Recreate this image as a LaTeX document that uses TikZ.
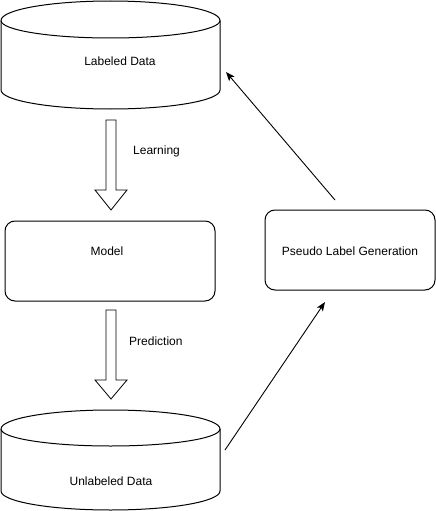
\documentclass[tikz,border=0pt]{standalone}
\usepackage{fontspec}
\setmainfont{Liberation Sans}
\usetikzlibrary{arrows.meta,calc}
\begin{document}
\begin{tikzpicture}[x=1pt,y=-1pt,
  lbl/.style={font=\fontsize{12}{14}\selectfont, inner sep=0pt},
  cyl/.style={draw=black, line width=1pt, fill=white},
  rbox/.style={draw=black, line width=1pt, rounded corners=10pt, fill=white},
  blockarrow/.style={draw=black, line width=0.8pt, fill=white, line join=miter},
  conn/.style={draw=black, line width=0.9pt, -{Stealth[length=9pt,width=7pt,inset=2pt]}}]
\useasboundingbox (0,0) rectangle (436,511);
% top cylinder
\path[cyl] (1,20.5) -- (1,90) arc[start angle=180,end angle=360,x radius=109.5,y radius=-19] -- (220,20.5) arc[start angle=0,end angle=180,x radius=109.5,y radius=-19.5] -- cycle;
\draw[line width=1pt] (1,20.5) arc[start angle=180,end angle=360,x radius=109.5,y radius=-17.5];
\node[lbl] (labeled) at (120,61) {Labeled Data};
% bottom cylinder
\path[cyl] (1,429) -- (1,491) arc[start angle=180,end angle=360,x radius=109.5,y radius=-19] -- (220,429) arc[start angle=0,end angle=180,x radius=109.5,y radius=-19] -- cycle;
\draw[line width=1pt] (1,429) arc[start angle=180,end angle=360,x radius=109.5,y radius=-17];
\node[lbl] (unlabeled) at (111,481) {Unlabeled Data};
% model box
\node[rbox, minimum width=210pt, minimum height=80pt] (modelbox) at (110,261) {};
\node[lbl] (model) at (107,251) {Model};
% pseudo box
\node[rbox, minimum width=170pt, minimum height=80pt] (pseudobox) at (350,250) {};
\node[lbl] (pseudo) at (350,251) {Pseudo Label Generation};
% block arrows
\coordinate (la) at (111,120);
\path[blockarrow] ($(la)+(-5,0)$) -- ($(la)+(5,0)$) -- ($(la)+(5,70)$) -- ($(la)+(16,70)$) -- ($(la)+(0,90)$) -- ($(la)+(-16,70)$) -- ($(la)+(-5,70)$) -- cycle;
\node[lbl, anchor=west] (learning) at (133,151) {Learning};
\coordinate (pa) at (111,310);
\path[blockarrow] ($(pa)+(-5,0)$) -- ($(pa)+(5,0)$) -- ($(pa)+(5,70)$) -- ($(pa)+(16,70)$) -- ($(pa)+(0,89)$) -- ($(pa)+(-16,70)$) -- ($(pa)+(-5,70)$) -- cycle;
\node[lbl, anchor=west] (prediction) at (129,341) {Prediction};
% connectors
\coordinate (c1s) at (225,450);
\coordinate (c1e) at (325,302);
\coordinate (c2s) at (335,200);
\coordinate (c2e) at (226,72);
\draw[conn] (c1s) -- (c1e);
\draw[conn] (c2s) -- (c2e);
\end{tikzpicture}
\end{document}
